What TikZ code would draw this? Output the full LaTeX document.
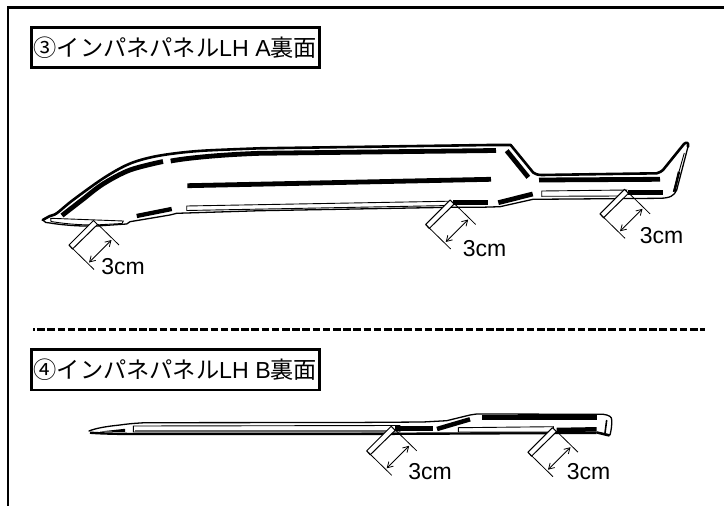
\documentclass[tikz,border=0pt]{standalone}
\usepackage{fontspec}
\setmainfont{Liberation Sans}
\newfontfamily\cjkfont{Noto Sans CJK JP}
\usetikzlibrary{arrows.meta}
\tikzset{
  x=1pt,y=-1pt,
  frameline/.style={line width=2.8pt,line cap=butt},
  titlebox/.style={draw,line width=2.7pt,inner sep=0pt,minimum height=40.5pt,minimum width=288pt,font=\fontsize{23.2}{23.2}\selectfont,anchor=center},
  outline/.style={line width=1.3pt,line join=round,line cap=round},
  heavy/.style={line width=2.6pt,line join=round,line cap=round},
  glue/.style={line width=4.8pt,line cap=butt},
  hollow/.style={draw,fill=white,line width=.9pt},
  dim/.style={line width=.8pt},
  dimarrow/.style={line width=.8pt,{Straight Barb[length=5.5pt,width=6.5pt]}-{Straight Barb[length=5.5pt,width=6.5pt]}},
  tape/.style={draw,fill=white,line width=1pt,line join=round},
  cmlabel/.style={font=\fontsize{23}{23}\selectfont,anchor=center}
}
\newcommand{\cutmark}[5]{%
  \begin{scope}[shift={(#1,#2)}]
    \draw[tape] (-1.5,-3) -- (2.5,1) -- (-22.5,25.5) -- (-26,21.5) -- cycle;
    \draw[dim] (3,1) -- (24,21.5);
    \draw[dim] (-26,21.5) -- (-1,46);
    \draw[dimarrow] (16.5,16.5) -- (-6,39);
  \end{scope}
  \node[cmlabel] (#5) at (#3,#4) {3cm};
}
\begin{document}
\begin{tikzpicture}
\useasboundingbox (0,0) rectangle (724,506);
\fill[white] (0,0) rectangle (724,506);
\coordinate (fa) at (8,506);
\coordinate (fb) at (8,7.5);
\coordinate (fc) at (724,7.5);
\draw[frameline] (fa) -- (fb) -- (fc);
\node[titlebox] (t3) at (175.4,47.5) {{\cjkfont ③インパネパネル}LH A{\cjkfont 裏面}};
\node[titlebox] (t4) at (175.4,369.7) {{\cjkfont ④インパネパネル}LH B{\cjkfont 裏面}};
\coordinate (dl) at (33,329.5);
\coordinate (dr) at (705,329.5);
\draw[line width=2.3pt,dash pattern=on 7.5pt off 2.7pt,dash phase=6pt] (dl) -- (dr);
% Panel A outline
\draw[outline] (42.7,220) .. controls (44,223) and (47,222.5) .. (50,223)
  .. controls (65,225.5) and (85,226.5) .. (96.7,226)
  -- (126.7,224)
  -- (130,221.7) -- (170,215) -- (176.7,213.3) -- (260,210.7) -- (450,207.3) -- (480,207.3) -- (500,206.7)
  -- (533,199.3) -- (660,198.3)
  .. controls (670,198) and (674,196) .. (676.7,190)
  -- (688,146.7);
\draw[heavy] plot[smooth,tension=.55] coordinates {(42.7,220) (50,216) (56.7,213.3) (73,200) (103.3,178.3) (126.7,165) (146.7,158.3) (170,154) (203,150.7) (260,148.3)}
  -- (490,145) -- (510.7,145)
  -- (533.3,172.7) .. controls (535,174) and (538,175) .. (541.7,175)
  -- (656.7,173.3) .. controls (660,172.5) and (661,171.5) .. (663,170)
  -- (684,144) .. controls (686,142) and (689,142) .. (688,146.7);
% glue strips A
\draw[glue] plot[smooth,tension=.55] coordinates {(62,215.5) (82,200) (103,184) (130,170) (163,161.5)};
\draw[glue] (170.7,161) .. controls (190,157.5) and (225,154.5) .. (260,153.3) -- (496,150.5);
\draw[glue] (187.3,185.7) -- (491,179.3);
\draw[glue,line width=4.3pt] (136.7,216) -- (171.7,209);
\draw[glue] (506.7,150.7) -- (528.3,177.3);
\draw[glue] (539,180) -- (660,179.3);
\draw[glue] (498.3,202.7) -- (532.7,194);
\draw[glue] (628,192.7) -- (663.3,192.7);
\draw[glue] (453.3,202.7) -- (488.3,202.7);
\draw[hollow] (186.7,206) -- (450,201.2) -- (450,205.5) -- (186.7,210.5) -- cycle;
\draw[hollow] (541.7,191) -- (626.7,190) -- (622,196) -- (541.7,196.3) -- cycle;
\draw[hollow] (50.7,218.3) -- (123.3,221) -- (122,223.5) -- (95,225) .. controls (75,225) and (60,223) .. (51,221.5) -- cycle;
\draw[line width=.9pt] (684.3,153) -- (673.3,191.7);
\draw[line width=2.4pt] (679,171.7) -- (674.3,191.7);
% cut marks A
\cutmark{95}{223.5}{123}{266.5}{c1}
\cutmark{451.7}{203}{484.5}{248.5}{c2}
\cutmark{626}{192.3}{661.5}{236}{c3}
% Panel B outline
\draw[outline] (89,431) .. controls (95,428.5) and (105,426.5) .. (120,425)
  .. controls (130,423.5) and (140,423) .. (145,422.7)
  -- (350,422.5) -- (423,422) -- (446.7,420.7) -- (470,415)
  -- (476.7,414) -- (603.3,414.3)
  .. controls (609,415) and (612,417) .. (611.7,420)
  .. controls (612,426) and (611,431) .. (610,435)
  -- (596.7,432.3);
\draw[line width=2.4pt] (90,432.7) .. controls (100,433.5) and (120,434) .. (136.7,434) -- (350,434) -- (460,433.5) -- (596.7,432.8);
\fill (100,431.5) -- (125,428.8) -- (125,432) -- cycle;
\draw[line width=.9pt,fill=white] (133.3,426) -- (400,425.5) -- (400,432) -- (133.3,432) -- cycle;
\draw[line width=2.2pt,black!60] (135,430.7) -- (395,430.7);
\draw[glue,line width=4.6pt] (395,428.3) -- (432.7,428.3);
\draw[glue,line width=4.5pt] (437,429) -- (470,419.3);
\draw[glue,line width=4.5pt] (482.3,417.7) -- (597.3,417.7);
\draw[hollow] (458.3,427.7) -- (553.3,426.7) -- (553.3,432) -- (458.3,432) -- cycle;
\draw[glue,line width=4.5pt] (556.7,430) -- (596.7,429.3);
\draw[line width=1.6pt] (606.7,420) -- (605,433);
\draw[line width=2.5pt] (597,432.5) -- (609.5,435.5);
\cutmark{392.7}{429.3}{430}{471.5}{c4}
\cutmark{554}{430.7}{588.5}{471.5}{c5}
\end{tikzpicture}
\end{document}
